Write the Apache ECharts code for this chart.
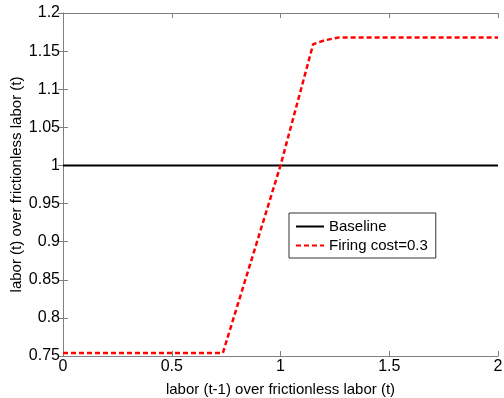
<!DOCTYPE html>
<html>
<head>
<meta charset="utf-8">
<script src="https://cdn.jsdelivr.net/npm/echarts@6/dist/echarts.min.js"></script>
<style>
  html, body { margin: 0; padding: 0; background: #fff; }
  #chart { width: 504px; height: 398px; }
</style>
</head>
<body>
<div id="chart"></div>
<script>
// values
const baselineX = [0, 2]
const baselineY = [1, 1]
const firingX = [0, 0.735, 1.0, 1.15, 1.2, 1.27, 2]
const firingY = [0.754, 0.754, 1.0, 1.159, 1.164, 1.168, 1.168]

const pairs = (xs, ys) => xs.map((x, i) => [x, ys[i]])

const chart = echarts.init(document.getElementById('chart'))
const font = 'Liberation Sans, Arial, sans-serif'
const axisLine = { lineStyle: { color: '#808080', width: 1 } }
const tick = { inside: true, length: 5, lineStyle: { color: '#808080' } }

const option = {
  animation: false,
  grid: { left: 63, right: 6, top: 13, bottom: 42, containLabel: false, outerBoundsMode: 'none' },
  legend: {
    orient: 'vertical',
    left: 289,
    top: 213,
    padding: [6, 8, 5, 6],
    itemGap: 4,
    itemWidth: 28,
    itemHeight: 15,
    backgroundColor: '#fff',
    borderColor: '#333',
    borderWidth: 1,
    borderRadius: 0,
    itemStyle: { opacity: 0 },
    lineStyle: { width: 2 },
    textStyle: { fontFamily: font, fontSize: 15, color: '#000', padding: [0, 0, 0, 0] },
    data: ['Baseline', 'Firing cost=0.3']
  },
  xAxis: [{
    type: 'value', min: 0, max: 2, interval: 0.5,
    name: 'labor (t-1) over frictionless labor (t)',
    nameLocation: 'middle', nameGap: 26, nameMoveOverlap: false,
    nameTextStyle: { fontFamily: font, fontSize: 15, color: '#000' },
    axisLine: axisLine,
    axisTick: tick,
    axisLabel: { fontFamily: font, fontSize: 16, color: '#000', margin: 3 },
    splitLine: { show: false }
  }, {
    type: 'value', min: 0, max: 2, interval: 0.5, position: 'top',
    axisLine: axisLine,
    axisTick: tick,
    axisLabel: { show: false },
    splitLine: { show: false }
  }],
  yAxis: [{
    type: 'value', min: 0.75, max: 1.2, interval: 0.05,
    name: 'labor (t) over frictionless labor (t)',
    nameLocation: 'middle', nameGap: 39, nameMoveOverlap: false,
    nameTextStyle: { fontFamily: font, fontSize: 15, color: '#000' },
    axisLine: axisLine,
    axisTick: tick,
    axisLabel: { fontFamily: font, fontSize: 16, color: '#000', margin: 3 },
    splitLine: { show: false }
  }, {
    type: 'value', min: 0.75, max: 1.2, interval: 0.05, position: 'right',
    axisLine: axisLine,
    axisTick: tick,
    axisLabel: { show: false },
    splitLine: { show: false }
  }],
  series: [
    {
      name: 'Baseline',
      type: 'line',
      data: pairs(baselineX, baselineY),
      symbol: 'none',
      itemStyle: { color: '#000' },
      lineStyle: { color: '#000', width: 2 }
    },
    {
      name: 'Firing cost=0.3',
      type: 'line',
      data: pairs(firingX, firingY),
      symbol: 'none',
      itemStyle: { color: '#f00' },
      lineStyle: { color: '#f00', width: 2.5, type: [5, 3] }
    }
  ]
}
chart.setOption(option)
</script>
</body>
</html>
